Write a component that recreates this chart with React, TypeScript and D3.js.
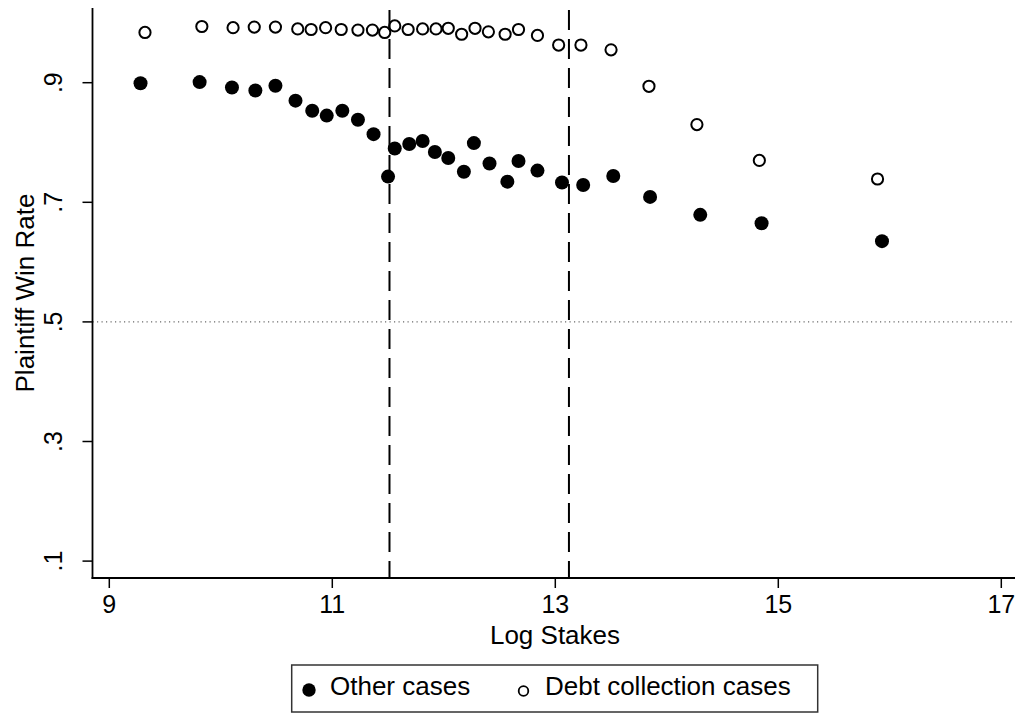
import React from "react";
import * as d3 from "d3";

const otherX = [9.28, 9.81, 10.10, 10.31, 10.49, 10.67, 10.82, 10.95, 11.09, 11.23, 11.37, 11.50, 11.56, 11.69, 11.81, 11.92, 12.04, 12.18, 12.27, 12.41, 12.57, 12.67, 12.84, 13.06, 13.25, 13.52, 13.85, 14.30, 14.85, 15.93];
const otherY = [0.899, 0.901, 0.892, 0.887, 0.895, 0.870, 0.853, 0.845, 0.853, 0.838, 0.814, 0.743, 0.790, 0.7975, 0.8025, 0.784, 0.774, 0.751, 0.799, 0.765, 0.7345, 0.769, 0.753, 0.733, 0.729, 0.744, 0.709, 0.679, 0.665, 0.635];

const debtX = [9.32, 9.83, 10.11, 10.30, 10.49, 10.69, 10.81, 10.94, 11.08, 11.23, 11.36, 11.47, 11.56, 11.68, 11.81, 11.93, 12.04, 12.16, 12.28, 12.40, 12.55, 12.67, 12.84, 13.03, 13.23, 13.50, 13.84, 14.27, 14.83, 15.89];
const debtY = [0.984, 0.994, 0.992, 0.993, 0.993, 0.990, 0.989, 0.992, 0.989, 0.988, 0.988, 0.984, 0.995, 0.989, 0.990, 0.990, 0.991, 0.981, 0.991, 0.985, 0.981, 0.989, 0.979, 0.963, 0.963, 0.955, 0.894, 0.830, 0.770, 0.739];

const xTicks = [9, 11, 13, 15, 17];
const yTicks = [0.1, 0.3, 0.5, 0.7, 0.9];
const yTickLabels = [".1", ".3", ".5", ".7", ".9"];
const vLines = [11.5129, 13.1224];
const hLine = 0.5;

const xTitle = "Log Stakes";
const yTitle = "Plaintiff Win Rate";
const legendLabels = ["Other cases", "Debt collection cases"];

const W = 1020;
const H = 713;
const FONT = "'Liberation Sans', Arial, Helvetica, sans-serif";

export default function App() {
  const x = d3.scaleLinear().domain([9, 17]).range([109.3, 1001.3]);
  const y = d3.scaleLinear().domain([0.1, 0.9]).range([561.1, 82.7]);
  const left = 92.5;
  const right = 1015;
  const top = 8;
  const bottom = 578;

  return (
    <svg
      width={W}
      height={H}
      style={{ position: "absolute", left: 0, top: 0, display: "block", background: "#fff" }}
      fontFamily={FONT}
    >
      <rect x={0} y={0} width={W} height={H} fill="#fff" />
      {/* reference lines */}
      <line x1={left} x2={right} y1={y(hLine)} y2={y(hLine)} stroke="#444" strokeWidth={1} strokeDasharray="1.2,3.3" />
      {vLines.map((v, i) => (
        <line key={"v" + i} x1={x(v)} x2={x(v)} y1={top + 2} y2={bottom} stroke="#000" strokeWidth={2} strokeDasharray="20,9" />
      ))}
      {/* axes */}
      <line x1={left} x2={left} y1={top} y2={bottom + 0.9} stroke="#000" strokeWidth={1.8} />
      <line x1={left - 0.9} x2={right} y1={bottom} y2={bottom} stroke="#000" strokeWidth={1.8} />
      {xTicks.map((t) => (
        <g key={"xt" + t}>
          <line x1={x(t)} x2={x(t)} y1={bottom} y2={bottom + 10} stroke="#000" strokeWidth={1.5} />
          <text x={x(t)} y={613} fontSize={25} textAnchor="middle" fill="#000">{String(t)}</text>
        </g>
      ))}
      {yTicks.map((t, i) => (
        <g key={"yt" + t}>
          <line x1={left - 10} x2={left} y1={y(t)} y2={y(t)} stroke="#000" strokeWidth={1.5} />
          <text transform={`translate(62,${y(t)}) rotate(-90)`} fontSize={25} textAnchor="middle" fill="#000">{yTickLabels[i]}</text>
        </g>
      ))}
      <text x={555} y={644} fontSize={26} textAnchor="middle" fill="#000">{xTitle}</text>
      <text transform={`translate(33.5,${(top + bottom) / 2}) rotate(-90)`} fontSize={26} textAnchor="middle" fill="#000">{yTitle}</text>
      {/* markers */}
      {otherX.map((v, i) => (
        <circle key={"o" + i} cx={x(v)} cy={y(otherY[i])} r={7} fill="#000" />
      ))}
      {debtX.map((v, i) => (
        <circle key={"d" + i} cx={x(v)} cy={y(debtY[i])} r={5.6} fill="none" stroke="#000" strokeWidth={2} />
      ))}
      {/* legend */}
      <rect x={291.7} y={665} width={526} height={47} fill="#fff" stroke="#333" strokeWidth={1.5} />
      <circle cx={309} cy={690} r={6.7} fill="#000" />
      <text x={330} y={695} fontSize={26} fill="#000">{legendLabels[0]}</text>
      <circle cx={523.5} cy={691} r={4.8} fill="none" stroke="#000" strokeWidth={1.8} />
      <text x={545} y={695} fontSize={26} fill="#000">{legendLabels[1]}</text>
    </svg>
  );
}
